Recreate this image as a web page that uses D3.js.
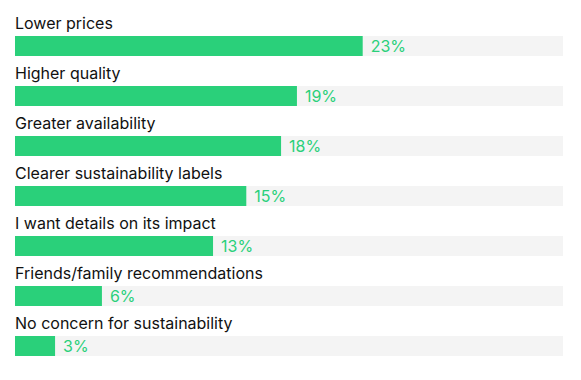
<!DOCTYPE html>
<html><head><meta charset="utf-8">
<script src="https://cdn.jsdelivr.net/npm/d3@7"></script>
<style>html,body{margin:0;padding:0;background:#fff;}svg{display:block;font-family:Inter,"Noto Sans",sans-serif;}</style>
</head><body>
<svg id="chart" width="581" height="380"></svg>
<script>
const categories = ["Lower prices","Higher quality","Greater availability","Clearer sustainability labels","I want details on its impact","Friends/family recommendations","No concern for sustainability"];
const values = [23.0, 18.65, 17.6, 15.3, 13.1, 5.75, 2.65];
const valueLabels = ["23%","19%","18%","15%","13%","6%","3%"];
const domainMax = 36.25;

const svg = d3.select("#chart");
const x = d3.scaleLinear().domain([0, domainMax]).range([15, 563]);
const y = d3.scaleBand().domain(categories).range([36, 386]).paddingInner(0).paddingOuter(0);
const barH = 20;

const g = svg.selectAll("g.row").data(categories).enter().append("g").attr("class","row");
g.append("rect").attr("x", x(0)).attr("y", d => y(d)).attr("width", x(domainMax)-x(0)).attr("height", barH).attr("fill","#f4f4f4");
g.append("rect").attr("x", x(0)).attr("y", d => y(d)).attr("width", (d,i) => x(values[i]) - x(0)).attr("height", barH).attr("fill","#2ad07a");
g.append("text").attr("x", x(0)).attr("y", d => y(d) - 7).text(d => d).attr("font-size", 16).attr("fill","#111");
g.append("text").attr("x", (d,i) => x(values[i]) + 8).attr("y", d => y(d) + 16).text((d,i) => valueLabels[i]).attr("font-size", 16).attr("fill","#2ad07a");
</script>
</body></html>
